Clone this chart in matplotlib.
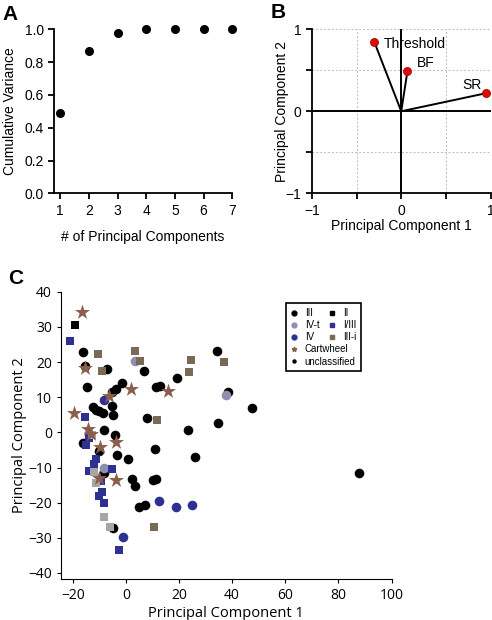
import numpy as np
import matplotlib.pyplot as plt
from matplotlib.lines import Line2D

## panel A data
n_pc = [1, 2, 3, 4, 5, 6, 7]
cum_var = [0.49, 0.865, 0.975, 1.0, 1.0, 1.0, 1.0]

## panel B data (loadings)
load_names = ['Threshold', 'BF', 'SR']
load_pc1 = [-0.30, 0.07, 0.95]
load_pc2 = [0.84, 0.49, 0.22]

## panel C data
III_x = [-16.2, -15.2, -14.7, -7.2, 6.7, -1.5, -3.6, -5.2, -5.3, -4.9, -12.5, -11.2, -8.7,
         -10.0, -8.3, -16.0, -3.9, -3.3, 0.8, -10.2, -8.4, 2.4, 3.6, 10.2, 11.2, 10.8, 7.9,
         11.2, 12.7, 19.2, 4.9, 7.3, -4.9, 23.4, 25.9, 34.3, 34.5, 38.5, 47.5, 87.8]
III_y = [22.9, 19.0, 13.0, 17.9, 17.4, 14.0, 12.4, 11.5, 7.6, 4.8, 7.1, 6.4, 5.5,
         6.2, 0.8, -3.0, -0.8, -6.4, -7.6, -5.4, -11.7, -13.3, -15.2, -13.6, -13.4, -4.8, 4.0,
         13.0, 13.3, 15.5, -21.1, -20.7, -27.1, 0.7, -7.1, 23.1, 2.6, 11.4, 6.8, -11.7]
IVt_x = [3.3, 37.6, -8.1]
IVt_y = [20.2, 10.5, -10.2]
IV_x = [-8.4, 12.5, 19.0, 24.7, -1.1]
IV_y = [9.2, -19.5, -21.2, -20.7, -29.7]
II_x = [-19.2]
II_y = [30.5]
I_III_x = [-21.0, -15.5, -13.8, -14.9, -11.2, -11.8, -14.0, -5.2, -9.3, -8.9, -10.2, -8.4, -2.4]
I_III_y = [26.0, 4.4, -1.7, -3.5, -7.6, -8.9, -11.0, -10.5, -13.8, -16.9, -18.1, -20.2, -33.4]
IIIi_x = [-10.3, 3.4, 5.2, -8.9, 24.5, 23.6, 36.9, 11.8, 10.7]
IIIi_y = [22.4, 23.1, 20.2, 17.4, 20.5, 17.1, 20.0, 3.5, -27.0]
grey_x = [-12.8, -12.1, -11.2, -8.3, -5.9]
grey_y = [-0.7, -11.4, -14.5, -24.1, -26.9]
cart_x = [-16.5, -15.2, -6.4, 2.0, 15.8, -19.4, -14.3, -13.1, -9.9, -3.6, -3.6, -10.0]
cart_y = [34.3, 18.4, 10.3, 12.4, 11.9, 5.4, 1.0, -0.5, -4.2, -2.7, -13.6, -12.9]

blue = '#2e3192'
lav = '#8f8fb2'
brown_sq = '#7a6a55'
star_c = '#8b5d4c'
grey_sq = '#a6a6a6'

plt.rcParams['font.family'] = ['Liberation Sans', 'DejaVu Sans']
fig = plt.figure(figsize=(4.92, 6.2), dpi=100)

##Panel A
axA = fig.add_axes([0.110, 0.688, 0.362, 0.265])
axA.plot(n_pc, cum_var, 'o', color='black', markersize=5.5, clip_on=False)
axA.set_xlim(0.79, 7)
axA.set_ylim(0, 1)
axA.set_xticks(n_pc)
axA.set_yticks([0, 0.2, 0.4, 0.6, 0.8, 1.0])
axA.set_yticklabels(['0.0', '0.2', '0.4', '0.6', '0.8', '1.0'])
axA.spines['top'].set_visible(False)
axA.spines['right'].set_visible(False)
axA.spines['left'].set_linewidth(1.3)
axA.spines['bottom'].set_linewidth(1.3)
axA.tick_params(labelsize=10, width=1.3, length=4)
axA.set_xlabel('# of Principal Components', fontsize=10, labelpad=9)
axA.set_ylabel('Cumulative Variance', fontsize=10, labelpad=5)

##Panel B
axB = fig.add_axes([0.634, 0.688, 0.363, 0.265])
axB.set_xlim(-1, 1)
axB.set_ylim(-1, 1)
for g in [-0.5, 0.5, 1.0]:
    axB.axvline(g, color='#b8b8e0', lw=0.7, ls=(0, (2, 2)), zorder=0)
    axB.axhline(g, color='#b8b8e0', lw=0.7, ls=(0, (2, 2)), zorder=0)
axB.axhline(0, color='black', lw=1.4, zorder=1)
axB.axvline(0, color='black', lw=1.4, zorder=1)
for i in range(len(load_names)):
    axB.plot([0, load_pc1[i]], [0, load_pc2[i]], color='black', lw=1.4, zorder=2)
axB.scatter(load_pc1, load_pc2, s=34, color='#dd0a0a', edgecolor='#990000', lw=0.5, zorder=3, clip_on=False)
axB.text(load_pc1[0] + 0.1, load_pc2[0] - 0.02, load_names[0], fontsize=10, va='center')
axB.text(load_pc1[1] + 0.1, load_pc2[1] + 0.1, load_names[1], fontsize=10, va='center')
axB.text(load_pc1[2] - 0.05, load_pc2[2] + 0.1, load_names[2], fontsize=10, va='center', ha='right')
axB.set_xticks([-1, 0, 1])
axB.set_yticks([-1, 0, 1])
axB.set_xticks([-0.5, 0.5], minor=True)
axB.set_yticks([-0.5, 0.5], minor=True)
axB.spines['top'].set_visible(False)
axB.spines['right'].set_visible(False)
axB.spines['left'].set_linewidth(1.3)
axB.spines['bottom'].set_linewidth(1.3)
axB.tick_params(labelsize=10, width=1.3, length=4)
axB.tick_params(which='minor', width=1.3, length=4)
axB.set_xlabel('Principal Component 1', fontsize=10, labelpad=1)
axB.set_ylabel('Principal Component 2', fontsize=10, labelpad=-2)

##Panel C
fc = ['Open Sans', 'DejaVu Sans']
axC = fig.add_axes([0.124, 0.0656, 0.672, 0.4639])
axC.scatter(III_x, III_y, s=48, color='black', lw=0, zorder=3)
axC.scatter(IVt_x, IVt_y, s=48, color=lav, lw=0, zorder=4)
axC.scatter(IV_x, IV_y, s=48, color=blue, lw=0, zorder=4)
axC.scatter(II_x, II_y, s=28, marker='s', color='black', lw=0, zorder=4)
axC.scatter(I_III_x, I_III_y, s=28, marker='s', color=blue, lw=0, zorder=4)
axC.scatter(IIIi_x, IIIi_y, s=28, marker='s', color=brown_sq, lw=0, zorder=4)
axC.scatter(grey_x, grey_y, s=28, marker='s', color=grey_sq, lw=0, zorder=4)
axC.scatter(cart_x, cart_y, s=130, marker='*', color=star_c, lw=0, zorder=5)
axC.set_xlim(-24.4, 100)
axC.set_ylim(-41.8, 40)
axC.set_xticks([-20, 0, 20, 40, 60, 80, 100])
axC.set_yticks([-40, -30, -20, -10, 0, 10, 20, 30, 40])
axC.spines['top'].set_visible(False)
axC.spines['right'].set_visible(False)
axC.spines['left'].set_linewidth(0.8)
axC.spines['bottom'].set_linewidth(0.8)
axC.tick_params(labelsize=10, width=0.8, length=3)
for lab in axC.get_xticklabels() + axC.get_yticklabels():
    lab.set_family(fc)
axC.set_xlabel('Principal Component 1', fontsize=10.5, family=fc, labelpad=2)
axC.set_ylabel('Principal Component 2', fontsize=10.5, family=fc, labelpad=1)

lf = {'family': ['Liberation Sans', 'DejaVu Sans'], 'size': 7}
h1 = [Line2D([], [], ls='none', marker='o', color='black', markersize=3.5),
      Line2D([], [], ls='none', marker='o', color=lav, markersize=3.5),
      Line2D([], [], ls='none', marker='o', color=blue, markersize=3.5),
      Line2D([], [], ls='none', marker='*', color=star_c, markersize=3.5),
      Line2D([], [], ls='none', marker='o', color='black', markersize=2.2)]
leg1 = axC.legend(h1, ['III', 'IV-t', 'IV', 'Cartwheel', 'unclassified'], loc='upper left',
                  bbox_to_anchor=(0.68, 0.960), handlelength=0.6, handletextpad=0.85,
                  labelspacing=0.22, borderpad=0.5, borderaxespad=0, fancybox=False,
                  edgecolor='black', framealpha=1, prop=lf)
leg1.get_frame().set_linewidth(1.2)
axC.add_artist(leg1)
h2 = [Line2D([], [], ls='none', marker='s', color='black', markersize=3),
      Line2D([], [], ls='none', marker='s', color=blue, markersize=3),
      Line2D([], [], ls='none', marker='s', color=brown_sq, markersize=3)]
leg2 = axC.legend(h2, ['II', 'I/III', 'III-i'], loc='upper left', bbox_to_anchor=(0.797, 0.960),
                  handlelength=0.6, handletextpad=0.83, labelspacing=0.22, borderpad=0.5,
                  borderaxespad=0, frameon=False, prop=lf)

fig.text(0.006, 0.992, 'A', fontsize=15, fontweight='bold', va='top')
fig.text(0.550, 0.995, 'B', fontsize=15, fontweight='bold', va='top')
fig.text(0.016, 0.566, 'C', fontsize=15, fontweight='bold', va='top')

plt.savefig('out.png', dpi=100)
